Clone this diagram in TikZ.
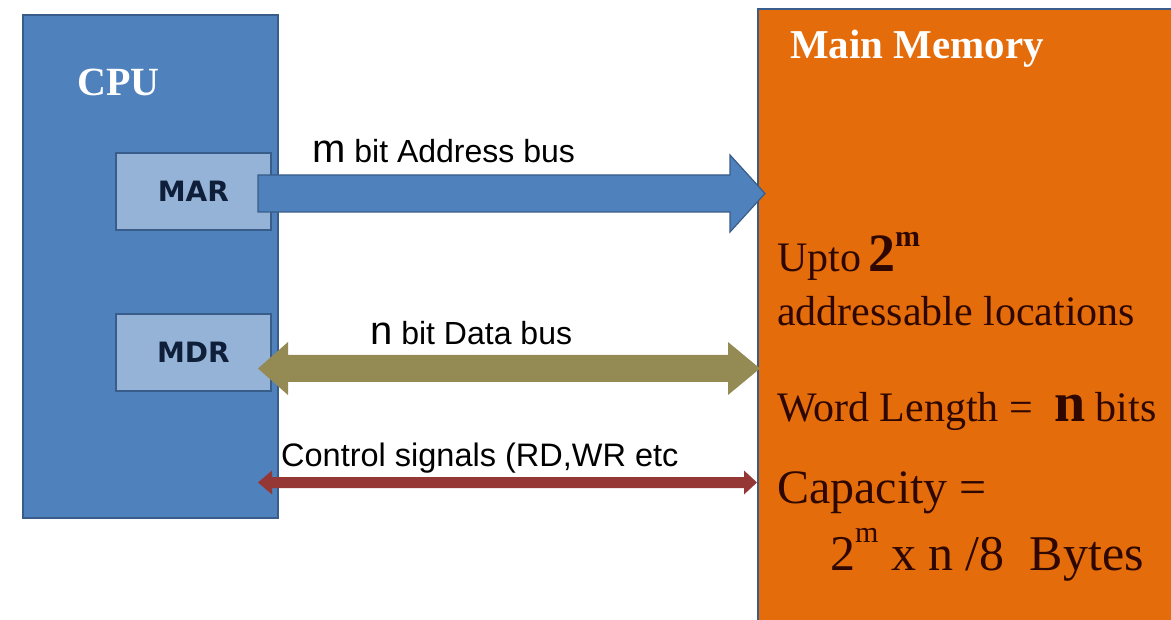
\documentclass[tikz,border=0pt]{standalone}
\usepackage{fontspec}
\setmainfont{Liberation Serif}
\newfontfamily\arialf{Liberation Sans}
\newfontfamily\regf{DejaVu Sans}
\newfontfamily\tmsf{Liberation Serif}
\usetikzlibrary{calc}
\definecolor{cpublue}{HTML}{4F81BD}
\definecolor{cpuedge}{HTML}{385D8A}
\definecolor{regblue}{HTML}{95B3D7}
\definecolor{regtext}{HTML}{0F1F3A}
\definecolor{memorange}{HTML}{E46C0A}
\definecolor{memtext}{HTML}{2E0800}
\definecolor{databus}{HTML}{948A54}
\definecolor{ctrlbus}{HTML}{953735}
\tikzset{
  box/.style={draw=cpuedge, line width=1.8pt, inner sep=0pt, anchor=north west},
  reg/.style={box, fill=regblue, font=\regf\bfseries\fontsize{28}{30}\selectfont, text=regtext},
  buslabel/.style={anchor=base west, inner sep=0pt, font=\arialf\fontsize{32}{36}\selectfont, text=black},
  memlabel/.style={anchor=base west, inner sep=0pt, font=\tmsf\fontsize{42}{46}\selectfont, text=memtext},
  title/.style={anchor=base west, inner sep=0pt, font=\tmsf\bfseries\fontsize{40}{44}\selectfont, text=white},
}
\begin{document}
\begin{tikzpicture}[x=1pt,y=-1pt]
\useasboundingbox (0,0) rectangle (1171,620);
\fill[white] (0,0) rectangle (1171,620);
% CPU
\node[box, fill=cpublue, minimum width=255pt, minimum height=503pt] (cpu) at (22,14) {};
\node[title] (cputxt) at (77,96) {CPU};
\node[reg, minimum width=155pt, minimum height=77pt] (mar) at (115,152) {MAR};
\node[reg, minimum width=155pt, minimum height=77pt] (mdr) at (115,313) {MDR};
% Memory
\node[box, fill=memorange, minimum width=420pt, minimum height=620pt] (mem) at (757,8) {};
\node[title, font=\tmsf\bfseries\fontsize{41}{44}\selectfont] (memtxt) at (790,59) {Main Memory};
% Address bus (single block arrow)
\coordinate (aS) at (258,193.5);
\coordinate (aE) at (765,193.5);
\filldraw[fill=cpublue, draw=cpuedge, line width=1.2pt, line join=miter]
  ($(aS)+(0,-18.5)$) -- ($(aE)+(-35,-18.5)$) -- ($(aE)+(-35,-38.5)$) -- (aE)
  -- ($(aE)+(-35,38.5)$) -- ($(aE)+(-35,18.5)$) -- ($(aS)+(0,18.5)$) -- cycle;
% Data bus (double block arrow)
\coordinate (dS) at (258,368.5);
\coordinate (dE) at (760,368.5);
\fill[databus]
  (dS) -- ($(dS)+(30,-26.5)$) -- ($(dS)+(30,-13.5)$) -- ($(dE)+(-32,-13.5)$)
  -- ($(dE)+(-32,-26.5)$) -- (dE) -- ($(dE)+(-32,26.5)$) -- ($(dE)+(-32,13.5)$)
  -- ($(dS)+(30,13.5)$) -- ($(dS)+(30,26.5)$) -- cycle;
% Control bus
\coordinate (cS) at (258,482.5);
\coordinate (cE) at (757,482.5);
\fill[ctrlbus]
  (cS) -- ($(cS)+(14,-12)$) -- ($(cS)+(14,-5.5)$) -- ($(cE)+(-13,-5.5)$)
  -- ($(cE)+(-13,-12)$) -- (cE) -- ($(cE)+(-13,12)$) -- ($(cE)+(-13,5.5)$)
  -- ($(cS)+(14,5.5)$) -- ($(cS)+(14,12)$) -- cycle;
% bus labels
\node[buslabel] (alab) at (312,163) {{\fontsize{40}{40}\selectfont m} bit Address bus};
\node[buslabel] (dlab) at (370,345) {{\fontsize{40}{40}\selectfont n} bit Data bus};
\node[buslabel, font=\arialf\fontsize{32.5}{36}\selectfont] (clab) at (281,466) {Control signals (RD,WR etc};
% memory text
\node[memlabel] (upto) at (777,272) {Upto\,{\bfseries\fontsize{54}{54}\selectfont 2}\raisebox{0.6em}{\bfseries\fontsize{30}{30}\selectfont m}};
\node[memlabel] (addr) at (777,326) {addressable locations};
\node[memlabel] (word) at (777,421) {Word Length =\ \ {\bfseries\fontsize{56}{56}\selectfont n} bits};
\node[memlabel, font=\tmsf\fontsize{48}{50}\selectfont] (cap) at (777,503) {Capacity =};
\node[memlabel, font=\tmsf\fontsize{50}{54}\selectfont] (capv) at (830,570) {2\raisebox{0.55em}{\fontsize{30}{30}\selectfont m} x n /8\ \ Bytes};
\end{tikzpicture}
\end{document}
